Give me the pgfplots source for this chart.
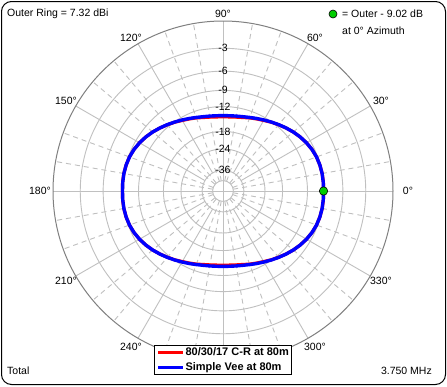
\documentclass[border=0pt]{standalone}
\usepackage{fontspec}
\setmainfont{Liberation Sans}
\usepackage{pgfplots}
\usepackage{pgfplotstable}
\pgfplotsset{compat=1.18}
\usetikzlibrary{calc}
\definecolor{gridc}{RGB}{192,192,192}
\definecolor{outerc}{RGB}{128,128,128}
\definecolor{patblue}{RGB}{0,0,255}
\definecolor{patred}{RGB}{255,0,0}
\definecolor{dotgreen}{RGB}{0,204,0}

% azimuth (deg), gain relative to outer ring (dB)
\pgfplotstableread{
az db
0 -9.00
5 -8.98
10 -8.99
15 -9.06
20 -9.19
25 -9.42
30 -9.74
35 -10.13
40 -10.58
45 -11.08
50 -11.60
55 -12.10
60 -12.62
65 -13.04
70 -13.41
75 -13.80
80 -14.04
85 -14.19
90 -14.24
95 -14.19
100 -14.04
105 -13.80
110 -13.41
115 -13.04
120 -12.62
125 -12.10
130 -11.60
135 -11.08
140 -10.58
145 -10.13
150 -9.74
155 -9.42
160 -9.19
165 -9.06
170 -8.99
175 -8.98
180 -9.00
185 -8.98
190 -8.99
195 -9.06
200 -9.19
205 -9.42
210 -9.74
215 -10.13
220 -10.58
225 -11.08
230 -11.60
235 -12.10
240 -12.62
245 -13.04
250 -13.41
255 -13.80
260 -14.04
265 -14.19
270 -14.24
275 -14.19
280 -14.04
285 -13.80
290 -13.41
295 -13.04
300 -12.62
305 -12.10
310 -11.60
315 -11.08
320 -10.58
325 -10.13
330 -9.74
335 -9.42
340 -9.19
345 -9.06
350 -8.99
355 -8.98
360 -9.00
}\redpat

\pgfplotstableread{
az db
0 -9.02
5 -9.00
10 -9.00
15 -9.06
20 -9.19
25 -9.42
30 -9.74
35 -10.13
40 -10.58
45 -11.07
50 -11.57
55 -12.06
60 -12.52
65 -12.94
70 -13.31
75 -13.61
80 -13.80
85 -13.92
90 -13.96
95 -13.92
100 -13.80
105 -13.61
110 -13.31
115 -12.94
120 -12.52
125 -12.06
130 -11.57
135 -11.07
140 -10.58
145 -10.13
150 -9.74
155 -9.42
160 -9.19
165 -9.06
170 -9.00
175 -9.00
180 -9.02
185 -9.00
190 -9.00
195 -9.06
200 -9.19
205 -9.42
210 -9.74
215 -10.13
220 -10.58
225 -11.07
230 -11.57
235 -12.06
240 -12.52
245 -12.94
250 -13.31
255 -13.61
260 -13.80
265 -13.92
270 -13.96
275 -13.92
280 -13.80
285 -13.61
290 -13.31
295 -12.94
300 -12.52
305 -12.06
310 -11.57
315 -11.07
320 -10.58
325 -10.13
330 -9.74
335 -9.42
340 -9.19
345 -9.06
350 -9.00
355 -9.00
360 -9.02
}\bluepat

\pgfplotstableread{
az db
0 -9.02
}\maxpt

\begin{document}
\begin{tikzpicture}[x=1pt,y=1pt,
  every node/.style={font=\fontsize{10.5}{12}\selectfont, inner sep=0pt}]
\path (0,0) rectangle (447,-386);
\fill[white] (1,-1) rectangle (446,-385);
\coordinate (C) at (223,-191);
% grid rings (ARRL log scale: r = 0.89^(-dB/2))
\foreach \r in {0.8396,0.7050,0.5919,0.4970,0.3504,0.2470,0.1228,0.0610}
  \draw[gridc, line width=0.9pt] (C) circle[radius={\r*170}];
% dashed radials every 10 deg
\foreach \a in {10,20,40,50,70,80,100,110,130,140,160,170,190,200,220,230,250,260,280,290,310,320,340,350}
  \draw[gridc, line width=0.9pt, dash pattern=on 5pt off 4pt, shift={(C)}] (\a:10.4) -- (\a:170);
% solid radials every 30 deg
\foreach \a in {30,60,120,150,210,240,300,330}
  \draw[gridc, line width=0.9pt, shift={(C)}] (\a:20.9) -- (\a:170);
\draw[gridc, line width=0.9pt] (53,-191) -- (393,-191);
\draw[gridc, line width=0.9pt] (223,-21) -- (223,-361);
\draw[outerc, line width=1pt] (C) circle[radius=170];
% ring labels
\foreach \r/\t in {0.8396/-3,0.7050/-6,0.5919/-9,0.4970/-12,0.3504/-18,0.2470/-24,0.1228/-36}
  \node at ($(C)+(0,\r*170)$) {\t};

\begin{axis}[at={(223pt,-191pt)}, anchor=center, x=170pt, y=170pt,
  xmin=-1, xmax=1, ymin=-1, ymax=1, hide axis, clip=false,
  legend style={at={(0.5,0.003)}, anchor=center, draw=black, fill=white,
    line width=0.8pt, inner xsep=2.5pt, inner ysep=2pt,
    row sep=4.5pt, nodes={inner sep=0.5pt, font=\bfseries\fontsize{11}{12}\selectfont}},
  legend cell align=left,
  legend image code/.code={\draw[#1] (0pt,0pt) -- (25pt,0pt);}]
\addplot[patred, line width=3.2pt, line join=round] table[
  x expr={exp(0.0582667*\thisrow{db})*cos(\thisrow{az})},
  y expr={exp(0.0582667*\thisrow{db})*sin(\thisrow{az})}] {\redpat};
\addlegendentry{80/30/17 C-R at 80m}
\addplot[patblue, line width=3.4pt, line join=round] table[
  x expr={exp(0.0582667*\thisrow{db})*cos(\thisrow{az})},
  y expr={exp(0.0582667*\thisrow{db})*sin(\thisrow{az})}] {\bluepat};
\addlegendentry{Simple Vee at 80m}
\addplot[only marks, mark=*, mark size=4.2pt, mark options={fill=dotgreen, draw=black, line width=0.6pt}, forget plot] table[
  x expr={exp(0.0582667*\thisrow{db})*cos(\thisrow{az})},
  y expr={exp(0.0582667*\thisrow{db})*sin(\thisrow{az})}] {\maxpt};
\end{axis}

% angle labels
\node at (408,-191) {0°};
\node at (381,-101) {30°};
\node at (315,-38) {60°};
\node at (223,-14) {90°};
\node at (131,-38) {120°};
\node at (66,-101) {150°};
\node at (40,-191) {180°};
\node at (66,-281) {210°};
\node at (131,-347) {240°};
\node at (315,-347) {300°};
\node at (381,-281) {330°};
% annotations
\node[anchor=west] at (7,-14) {Outer Ring = 7.32 dBi};
\node[circle, draw=black, line width=0.6pt, fill=dotgreen, minimum size=8pt] at (333,-14) {};
\node[anchor=west] at (342,-14) {= Outer - 9.02 dB};
\node[anchor=west] at (342,-31) {at 0° Azimuth};
\node[anchor=west] at (7,-371) {Total};
\node[anchor=east] at (432,-371) {3.750 MHz};
% frame
\draw[black, line width=1pt, rounded corners=10pt] (1.5,-1.5) rectangle (445.5,-384.5);
\end{tikzpicture}
\end{document}
